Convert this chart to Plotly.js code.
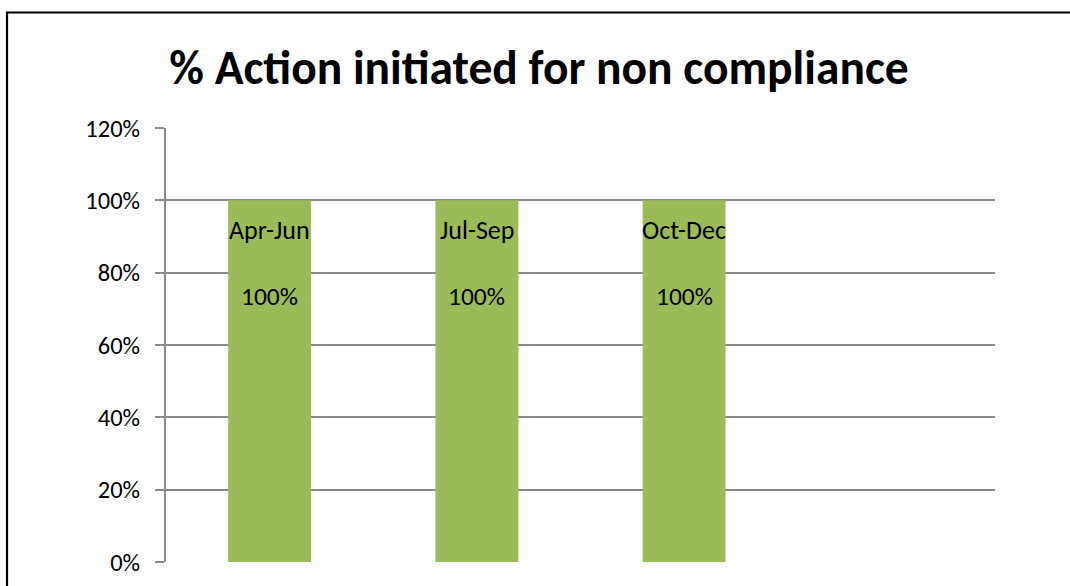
<!DOCTYPE html>
<html>
<head>
<meta charset="utf-8">
<script src="https://cdn.plot.ly/plotly-3.0.1.min.js"></script>
<style>
html,body{margin:0;padding:0;background:#fff;}
#chart{width:1070px;height:586px;}
</style>
</head>
<body>
<div id="chart"></div>
<script>
// Data
const categories = ["Apr-Jun", "Jul-Sep", "Oct-Dec", "Jan-Mar"];
const values = [1.0, 1.0, 1.0, null];
const valueLabels = ["100%", "100%", "100%", ""];
const yTickVals = [0, 0.2, 0.4, 0.6, 0.8, 1.0, 1.2];
const yTickText = ["0%", "20%", "40%", "60%", "80%", "100%", "120%"];
const chartTitle = "% Action initiated for non compliance";

const FONT = "Calibri, Carlito, Lato, sans-serif";
const GRID = "#8a8a8a";

const trace = {
  type: "bar",
  x: categories,
  y: values,
  marker: {color: "#9BBB59", line: {width: 0}},
  hoverinfo: "skip"
};

const annotations = [];
categories.forEach((c, i) => {
  if (values[i] === null) return;
  annotations.push({
    x: c, y: values[i], xref: "x", yref: "y",
    text: c, showarrow: false, yanchor: "middle", yshift: -30,
    font: {family: FONT, size: 26, color: "#000"}
  });
  annotations.push({
    x: c, y: values[i], xref: "x", yref: "y",
    text: valueLabels[i], showarrow: false, yanchor: "middle", yshift: -96,
    font: {family: FONT, size: 25.5, color: "#000"}
  });
});

const layout = {
  width: 1070,
  height: 586,
  margin: {l: 166, r: 75, t: 128, b: 24, pad: 0},
  paper_bgcolor: "#ffffff",
  plot_bgcolor: "#ffffff",
  showlegend: false,
  bargap: 0.6,
  title: {
    text: "<b>" + chartTitle + "</b>",
    font: {family: FONT, size: 47.5, color: "#000"},
    x: 539 / 1070, xanchor: "center", xref: "container",
    y: 1 - 67 / 586, yanchor: "middle", yref: "container"
  },
  xaxis: {
    type: "category",
    categoryorder: "array",
    categoryarray: categories,
    showticklabels: false,
    showgrid: false,
    zeroline: false,
    showline: false,
    ticks: "",
    fixedrange: true
  },
  yaxis: {
    range: [0, 1.2],
    tickvals: yTickVals,
    ticktext: yTickText,
    showgrid: true,
    gridcolor: GRID,
    gridwidth: 2,
    zeroline: false,
    showline: true,
    linecolor: GRID,
    linewidth: 2,
    ticks: "outside",
    ticklen: 9,
    tickwidth: 2,
    tickcolor: GRID,
    ticklabelstandoff: 10,
    tickfont: {family: FONT, size: 24.5, color: "#000"},
    fixedrange: true
  },
  annotations: annotations,
  shapes: [{
    type: "rect", xref: "paper", yref: "paper",
    x0: (7 - 166) / 829, x1: 1.5,
    y0: -0.3, y1: (562 - 12.5) / 434,
    line: {color: "#000", width: 2.2},
    fillcolor: "rgba(0,0,0,0)",
    layer: "above"
  }]
};

Plotly.newPlot("chart", [trace], layout, {displayModeBar: false, staticPlot: true});
</script>
</body>
</html>
